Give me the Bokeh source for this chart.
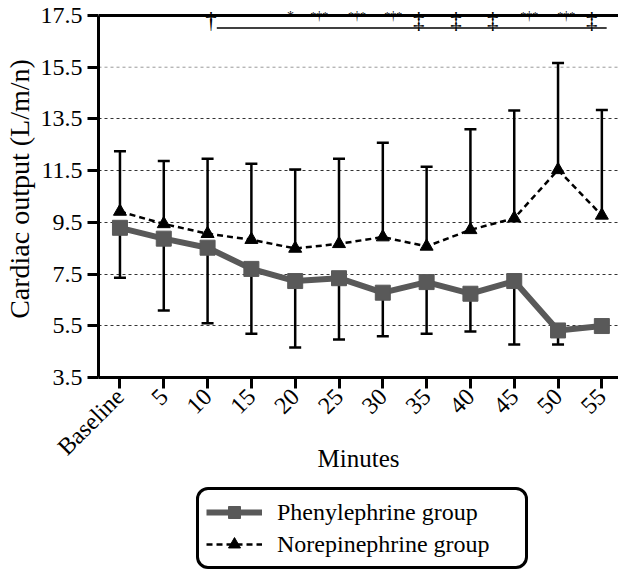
import math
from bokeh.plotting import figure
from bokeh.layouts import column
from bokeh.models import (Range1d, FixedTicker, Whisker, TeeHead, Span,
                          ColumnDataSource, Legend, LegendItem, LabelSet)
from bokeh.embed import file_html
from bokeh.resources import INLINE

# ---------------- data ----------------
categories = ["Baseline", "5", "10", "15", "20", "25", "30", "35", "40", "45", "50", "55"]
phen_mean = [9.29, 8.87, 8.52, 7.70, 7.23, 7.34, 6.78, 7.19, 6.74, 7.23, 5.32, 5.49]
phen_lower = [7.36, 6.09, 5.60, 5.19, 4.66, 4.97, 5.10, 5.19, 5.28, 4.78, 4.78, 5.40]
nore_mean = [9.92, 9.44, 9.06, 8.83, 8.49, 8.67, 8.93, 8.57, 9.21, 9.66, 11.53, 9.77]
nore_upper = [12.25, 11.87, 11.96, 11.77, 11.54, 11.96, 12.58, 11.65, 13.10, 13.83, 15.66, 13.85]
y_ticks = [3.5, 5.5, 7.5, 9.5, 11.5, 13.5, 15.5, 17.5]
y_min, y_max = 3.5, 17.5

# significance symbols along the top (x in category units)
sig_x = [2.08, 3.89, 4.55, 5.41, 6.24, 6.82, 7.67, 8.51, 9.34, 10.19, 10.77]
sig_text = ["†", "*", "*†*", "*†*", "*†*", "‡", "‡", "‡", "*†*", "*†*", "‡"]
bracket_x = [2.21, 11.11]

FONT = "Liberation Serif"
PHEN_COLOR = "#595959"

x = list(range(len(categories)))

# frame geometry (px)
FRAME_W = 520
FRAME_H = 377
TOP_GAP = 15          # space between frame top and the 17.5 line
px_per_unit = (FRAME_H - TOP_GAP) / (y_max - y_min)
y_end = y_max + TOP_GAP / px_per_unit
BOTTOM = 104
LEG_H = 570 - FRAME_H - BOTTOM

p = figure(frame_width=FRAME_W, frame_height=FRAME_H,
           x_range=Range1d(-0.49, 11.38), y_range=Range1d(y_min, y_end),
           output_backend="svg", toolbar_location=None,
           min_border_left=92, min_border_right=0, min_border_top=0,
           min_border_bottom=BOTTOM)
p.outline_line_color = None
p.background_fill_color = "white"
p.border_fill_color = "white"

# grid (top grid line is lighter in the original)
p.xgrid.grid_line_color = None
p.ygrid.ticker = FixedTicker(ticks=y_ticks[1:-2])
p.ygrid.grid_line_color = "#333333"
p.ygrid.grid_line_dash = "3 3"
p.ygrid.grid_line_width = 1
p.add_layout(Span(location=y_ticks[-2], dimension="width", line_color="#9a9a9a",
                  line_dash="3 3", line_width=1, level="underlay"))

# axes
xa = p.xaxis[0]
xa.ticker = FixedTicker(ticks=x)
xa.major_label_overrides = {i: c for i, c in enumerate(categories)}
xa.major_label_orientation = math.pi / 4
xa.axis_label = "Minutes"

ya = p.yaxis[0]
ya.ticker = FixedTicker(ticks=y_ticks)
ya.bounds = (y_min, y_max)
ya.axis_label = "Cardiac output (L/m/n)"

for ax in (xa, ya):
    ax.axis_line_width = 3
    ax.axis_line_color = "black"
    ax.major_tick_line_width = 3
    ax.major_tick_line_color = "black"
    ax.major_tick_out = 11
    ax.major_tick_in = 0
    ax.minor_tick_line_color = None
    ax.major_label_text_font = FONT
    ax.major_label_text_font_size = "24px"
    ax.major_label_text_color = "black"
    ax.axis_label_text_font = FONT
    ax.axis_label_text_font_style = "normal"
    ax.axis_label_text_color = "black"
ya.major_label_standoff = 5
xa.major_label_standoff = 4
xa.axis_label_text_font_size = "25px"
ya.axis_label_text_font_size = "28px"
xa.axis_label_standoff = -27
ya.axis_label_standoff = 3

# top border line
p.add_layout(Span(location=y_max, dimension="width", line_color="black", line_width=3))

# error bars
phen_src = ColumnDataSource(dict(x=x, y=phen_mean, lo=phen_lower))
nore_src = ColumnDataSource(dict(x=x, y=nore_mean, hi=nore_upper))
w1 = Whisker(source=phen_src, base="x", upper="y", lower="lo", dimension="height",
             line_width=2.5, line_color="black", upper_head=None,
             lower_head=TeeHead(size=12, line_width=2.5, line_color="black"))
w2 = Whisker(source=nore_src, base="x", upper="hi", lower="y", dimension="height",
             line_width=2.5, line_color="black", lower_head=None,
             upper_head=TeeHead(size=12, line_width=2.5, line_color="black"))
w1.level = "underlay"
w2.level = "underlay"
p.add_layout(w1)
p.add_layout(w2)

# series
phen_line = dict(line_color=PHEN_COLOR, line_width=6)
phen_mark = dict(marker="square", size=15, fill_color=PHEN_COLOR, line_color=PHEN_COLOR)
nore_line = dict(line_color="black", line_width=2.5, line_dash="6 4")
nore_mark = dict(marker="triangle", size=13, fill_color="black", line_color="black")

p.line("x", "y", source=phen_src, **phen_line)
p.scatter("x", "y", source=phen_src, **phen_mark)
p.line("x", "y", source=nore_src, **nore_line)
p.scatter("x", "y", source=nore_src, **nore_mark)

# significance annotations
big_idx = [i for i, t in enumerate(sig_text) if t in ("†", "‡")]
ast_idx = [i for i, t in enumerate(sig_text) if t == "*"]
grp_idx = [i for i, t in enumerate(sig_text) if t == "*†*"]
y_bracket = y_max - 12.5 / px_per_unit

big_src = ColumnDataSource(dict(x=[sig_x[i] for i in big_idx], y=[y_bracket] * len(big_idx),
                                t=[sig_text[i] for i in big_idx]))
ast_src = ColumnDataSource(dict(x=[sig_x[i] for i in ast_idx], y=[y_max - 0.03] * len(ast_idx),
                                t=[sig_text[i] for i in ast_idx]))
grp_src = ColumnDataSource(dict(x=[sig_x[i] for i in grp_idx], y=[y_max] * len(grp_idx),
                                t=[sig_text[i] for i in grp_idx]))
p.add_layout(LabelSet(source=big_src, x="x", y="y", text="t", text_align="center",
                      text_baseline="alphabetic", text_font=FONT, text_font_size="23px",
                      text_color="black"))
p.add_layout(LabelSet(source=ast_src, x="x", y="y", text="t", text_align="center",
                      text_baseline="middle", text_font=FONT, text_font_size="14px",
                      text_color="black"))
p.add_layout(LabelSet(source=grp_src, x="x", y="y", text="t", text_align="center",
                      text_baseline="middle", text_font=FONT, text_font_size="12px",
                      text_color="black"))
p.line(x=bracket_x, y=[y_bracket, y_bracket], line_color="black", line_width=1.5)

# legend in its own strip below the chart (dummy glyphs sit outside its ranges)
q = figure(width=612, height=LEG_H, x_range=Range1d(0, 1), y_range=Range1d(0, 1),
           x_axis_type=None, y_axis_type=None, output_backend="svg",
           toolbar_location=None, min_border=0)
q.outline_line_color = None
q.grid.visible = False
q.background_fill_color = "white"
q.border_fill_color = "white"
ql1 = q.line(x=[5, 6], y=[5, 6], **phen_line)
qm1 = q.scatter(x=[5], y=[5], **phen_mark)
ql2 = q.line(x=[5, 6], y=[5, 6], **nore_line)
qm2 = q.scatter(x=[5], y=[5], **nore_mark)

legend = Legend(items=[LegendItem(label="Phenylephrine group", renderers=[ql1, qm1]),
                       LegendItem(label="Norepinephrine group", renderers=[ql2, qm2])],
                location=(98, 1))
legend.label_text_font = FONT
legend.label_text_font_size = "24px"
legend.label_text_color = "black"
legend.border_line_color = "black"
legend.border_line_alpha = 1
legend.border_line_width = 3
legend.background_fill_alpha = 1
legend.glyph_width = 56
legend.glyph_height = 30
legend.label_height = 30
legend.label_standoff = 15
legend.label_width = 241
legend.padding = 7
legend.spacing = 2
legend.margin = 0
if "border_radius" in Legend.properties():
    legend.border_radius = 12
q.add_layout(legend, "center")

layout = column(p, q, spacing=0)
open("out.html", "w").write(file_html(layout, INLINE))
